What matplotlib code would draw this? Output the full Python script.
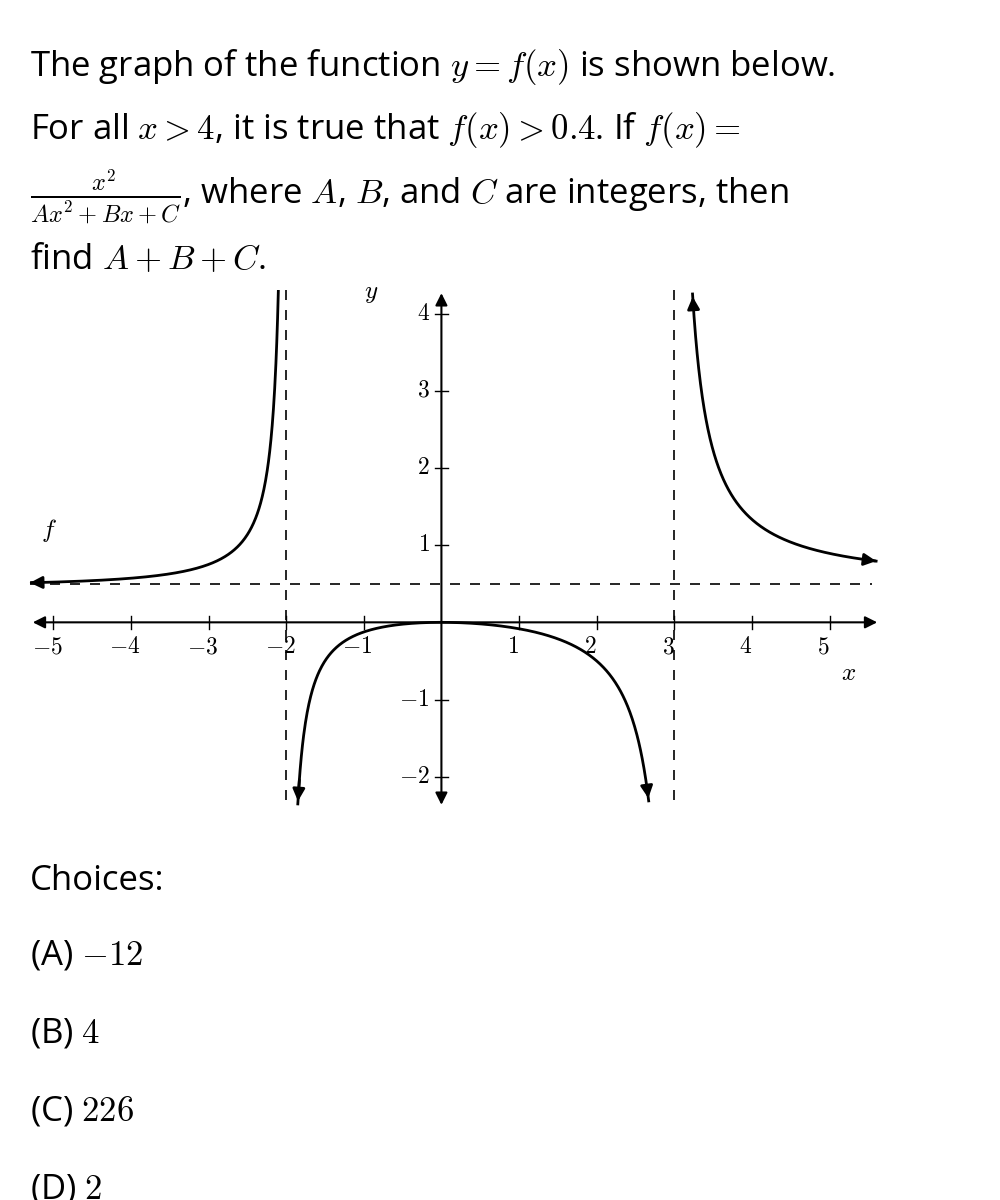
import numpy as np
import matplotlib.pyplot as plt

plt.rcParams['mathtext.fontset'] = 'cm'
plt.rcParams['font.family'] = ['Open Sans', 'DejaVu Sans']

# f(x) = x^2 / (A x^2 + B x + C)
A, B, C = 2, -2, -12
vert_asym = [-2, 3]
horiz_asym = 0.5
x_ticks = [-5, -4, -3, -2, -1, 1, 2, 3, 4, 5]
y_ticks = [-2, -1, 1, 2, 3, 4]
branches = [(-5.3, -2.10), (-1.85, 2.67), (3.235, 5.6)]
choices = ['(A) $-12$', '(B) $4$', '(C) $226$', '(D) $2$']

fig = plt.figure(figsize=(10, 12), dpi=100)

fs = 25
fig.text(0.03, 0.937, r'The graph of the function $y=f(x)$ is shown below.', fontsize=fs)
fig.text(0.03, 0.884, r'For all $x>4$, it is true that $f(x)>0.4$. If $f(x)=$', fontsize=fs)
fig.text(0.03, 0.830, r'$\frac{x^2}{Ax^2+Bx+C}$, where $A$, $B$, and $C$ are integers, then', fontsize=fs)
fig.text(0.03, 0.776, r'find $A+B+C$.', fontsize=fs)

fig.text(0.03, 0.258, 'Choices:', fontsize=fs)
for i, c in enumerate(choices):
    fig.text(0.03, 0.196 - i * 0.065, c, fontsize=fs)

ax = fig.add_axes([0.03, 0.327, 0.85, 0.431])
ax.set_xlim(-5.3, 5.65)
ax.set_ylim(-2.4, 4.3)
ax.axis('off')

def f(x):
    return x**2 / (A * x**2 + B * x + C)

ap = dict(arrowstyle='-|>', color='black', lw=2, mutation_scale=18)
for a, b in branches:
    xs = np.linspace(a, b, 600)
    ax.plot(xs, f(xs), color='black', lw=2)
    ax.annotate('', xy=(a, f(a)), xytext=(xs[3], f(xs[3])), arrowprops=ap)
    ax.annotate('', xy=(b, f(b)), xytext=(xs[-4], f(xs[-4])), arrowprops=ap)

# axes with arrows
ax.annotate('', xy=(5.65, 0), xytext=(-5.3, 0), arrowprops=dict(arrowstyle='<|-|>', color='black', lw=1.5, mutation_scale=18))
ax.annotate('', xy=(0, 4.3), xytext=(0, -2.4), arrowprops=dict(arrowstyle='<|-|>', color='black', lw=1.5, mutation_scale=18))

for v in vert_asym:
    ax.plot([v, v], [-2.3, 4.3], color='black', lw=1.2, ls=(0, (6, 6)))
ax.plot([-5.3, 5.55], [horiz_asym, horiz_asym], color='black', lw=1.2, ls=(0, (6, 6)))

for t in x_ticks:
    ax.plot([t, t], [-0.08, 0.08], color='black', lw=1)
    ax.text(t - 0.08, -0.32, f'${t}$' if t > 0 else f'$-{abs(t)}$', ha='center', va='center', fontsize=17)
for t in y_ticks:
    ax.plot([-0.08, 0.08], [t, t], color='black', lw=1)
    ax.text(-0.15, t, f'${t}$' if t > 0 else f'$-{abs(t)}$', ha='right', va='center', fontsize=17)

ax.text(5.25, -0.75, '$x$', fontsize=18, ha='center')
ax.text(-0.9, 4.2, '$y$', fontsize=18, ha='center')
ax.text(-5.05, 1.1, '$f$', fontsize=18, ha='center')

fig.savefig('out.png')
